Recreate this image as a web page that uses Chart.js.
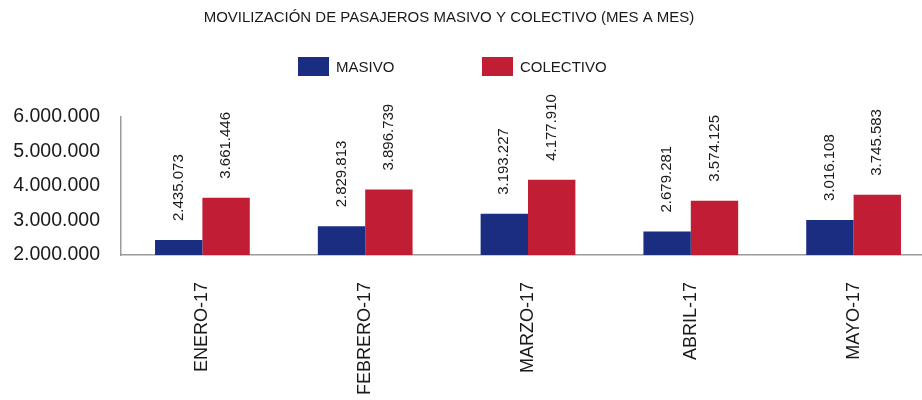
<!DOCTYPE html>
<html>
<head>
<meta charset="utf-8">
<script src="https://cdn.jsdelivr.net/npm/chart.js@4"></script>
<style>
    body { margin: 0; overflow: hidden; background: #fff; }
    #wrap { width: 922px; height: 400px; overflow: hidden; }
</style>
</head>
<body>
<div id="wrap"><canvas id="chart" width="938" height="400"></canvas></div>
<script>
const titleText = "MOVILIZACIÓN DE PASAJEROS MASIVO Y COLECTIVO (MES A MES)";
const months = ["ENERO-17", "FEBRERO-17", "MARZO-17", "ABRIL-17", "MAYO-17"];
const masivo = [2435073, 2829813, 3193227, 2679281, 3016108];
const colectivo = [3661446, 3896739, 4177910, 3574125, 3745583];
const yTicks = [2000000, 3000000, 4000000, 5000000, 6000000];

const FONT = '"Liberation Sans", Arial, Helvetica, sans-serif';
const TEXT = "#1a1a1a";

function formatNumber(v) {
    return String(v).replace(/\B(?=(\d{3})+(?!\d))/g, ".");
}

// rotated value labels above each bar
const valueLabels = {
    id: "valueLabels",
    afterDatasetsDraw: (chart) => {
        const ctx = chart.ctx;
        ctx.save();
        ctx.font = `15px ${FONT}`;
        ctx.fillStyle = TEXT;
        ctx.textAlign = "left";
        ctx.textBaseline = "middle";
        chart.data.datasets.forEach((ds, i) => {
            chart.getDatasetMeta(i).data.forEach((bar, j) => {
                ctx.save();
                ctx.translate(bar.x, bar.y - 19);
                ctx.rotate(-Math.PI / 2);
                ctx.fillText(formatNumber(ds.data[j]), 0, 0);
                ctx.restore();
            });
        });
        ctx.restore();
    }
};

// title and legend, placed like the original
const header = {
    id: "header",
    afterDraw: (chart) => {
        const ctx = chart.ctx;
        ctx.save();
        ctx.fillStyle = TEXT;
        ctx.font = `15px ${FONT}`;
        ctx.textAlign = "center";
        ctx.textBaseline = "middle";
        ctx.fillText(titleText, 449, 18);

        const starts = [298, 482];
        ctx.textAlign = "left";
        chart.data.datasets.forEach((ds, i) => {
            ctx.fillStyle = ds.backgroundColor;
            ctx.fillRect(starts[i], 57, 31, 19);
            ctx.fillStyle = TEXT;
            ctx.fillText(ds.label, starts[i] + 38, 68);
        });
        ctx.restore();
    }
};

new Chart(document.getElementById("chart"), {
    type: "bar",
    data: {
        labels: months,
        datasets: [{
            label: "MASIVO",
            data: masivo,
            backgroundColor: "#1a2d80",
            categoryPercentage: 0.582,
            barPercentage: 1
        }, {
            label: "COLECTIVO",
            data: colectivo,
            backgroundColor: "#c11d35",
            categoryPercentage: 0.582,
            barPercentage: 1
        }]
    },
    options: {
        responsive: false,
        animation: false,
        layout: { padding: { top: 117, right: 3, left: 0, bottom: 0 } },
        plugins: {
            legend: { display: false },
            title: { display: false },
            tooltip: { enabled: false }
        },
        scales: {
            x: {
                grid: { display: false, drawTicks: false },
                border: { display: true, color: "#9a9a9a", width: 1.5 },
                ticks: {
                    color: TEXT,
                    font: { family: FONT, size: 18 },
                    maxRotation: 90,
                    minRotation: 90,
                    padding: 27
                },
                afterFit: (scale) => { scale.height = 145; }
            },
            y: {
                min: yTicks[0],
                max: yTicks[yTicks.length - 1],
                grid: { display: false, drawTicks: false },
                border: { display: true, color: "#9a9a9a", width: 1.5 },
                afterBuildTicks: (scale) => { scale.ticks = yTicks.map(v => ({ value: v })); },
                ticks: {
                    color: TEXT,
                    font: { family: FONT, size: 19.5 },
                    padding: 21,
                    callback: (v) => formatNumber(v)
                },
                afterFit: (scale) => { scale.width = 121; }
            }
        }
    },
    plugins: [valueLabels, header]
});
</script>
</body>
</html>
